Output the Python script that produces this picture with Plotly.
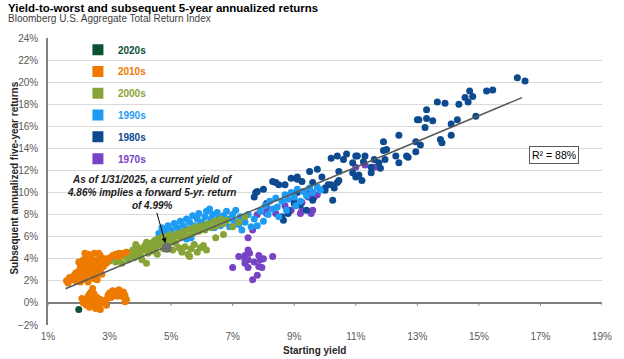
import plotly.graph_objects as go

# ---------------- data ----------------
decades = ["2020s", "2010s", "2000s", "1990s", "1980s", "1970s"]
colors = {"2020s": "#0B5233", "2010s": "#EE7A00", "2000s": "#86A536",
          "1990s": "#1E9CF3", "1980s": "#0D4A8F", "1970s": "#7643C4"}

x_2020s = [2.0]
y_2020s = [-0.6]

x_2010s = [1.6, 1.65, 1.7, 1.75, 1.8, 1.85, 1.9, 1.95, 2.0, 2.0, 2.05, 2.1, 2.1, 2.15, 2.15, 2.2, 2.2, 2.25, 2.25,
           2.3, 2.3, 2.35, 2.35, 2.4, 2.4, 2.45, 2.45, 2.5, 2.5, 2.55, 2.55, 2.6, 2.6, 2.65, 2.7, 2.7, 2.75, 2.8,
           2.6, 2.85, 2.9, 2.95, 3.0, 3.1, 3.2, 3.25, 3.3, 3.35, 3.45, 3.55, 2.05, 2.3, 1.9, 2.5, 2.0, 2.2, 2.65,
           2.4, 2.75,
           2.1, 2.15, 2.2, 2.25, 2.3, 2.3, 2.35, 2.4, 2.4, 2.45, 2.45, 2.5, 2.5, 2.55, 2.55, 2.6, 2.6, 2.65, 2.7,
           2.75, 2.8, 2.9, 2.9, 2.95, 3.0, 3.05, 3.1, 3.15, 3.2, 3.25, 3.3, 3.3, 3.35, 3.4, 3.45, 3.5, 3.55, 3.5,
           2.35, 2.7]
y_2010s = [2.0, 1.8, 2.3, 2.1, 2.2, 2.5, 2.0, 2.6, 2.3, 2.9, 3.3, 2.1, 3.6, 2.7, 3.9, 2.3, 3.2, 4.1, 2.9,
           3.5, 4.4, 2.6, 3.8, 3.1, 4.1, 2.4, 3.4, 3.7, 4.5, 2.9, 3.2, 3.9, 2.6, 3.5, 4.3, 3.0, 3.7, 3.3,
           2.1, 4.0, 3.6, 3.9, 4.1, 4.3, 4.4, 4.2, 4.5, 4.3, 4.5, 4.6, 1.9, 1.9, 2.7, 2.2, 3.7, 4.5, 4.5,
           3.6, 2.6,
           0.4, 0.0, 0.3, -0.2, 0.6, 0.0, -0.4, 0.4, 1.0, 1.3, -0.1, 0.2, 0.8, -0.5, 0.1, 0.5, -0.2, -0.4, 0.3,
           0.0, 0.2, -0.2, 0.3, 0.7, 0.9, 0.5, 1.1, 0.8, 1.0, 0.6, 1.2, 0.8, 0.9, 0.6, 1.0, 0.1, 0.3, 0.7,
           0.8, -0.6]

x_2000s = [3.0, 3.1, 3.2, 3.3, 3.35, 3.4, 3.5, 3.55, 3.6, 3.7, 3.75, 3.8, 3.9, 3.95, 4.0, 4.1, 4.15, 4.2, 4.25,
           4.3, 4.35, 4.4, 4.45, 4.5, 4.55, 4.6, 4.65, 4.7, 4.75, 4.8, 4.85, 4.9, 4.95, 5.0, 5.05, 5.1, 5.15, 5.2,
           5.3, 5.35, 5.4, 5.45, 5.5, 5.55, 5.6, 5.65, 5.7, 5.75, 5.8, 5.85, 5.9, 5.95, 6.0, 6.05, 6.1, 6.15,
           6.2, 6.3, 6.4, 6.5, 6.6, 6.7, 6.8, 7.0, 7.2, 7.4, 4.05, 4.2, 3.85, 4.5, 5.25, 5.6, 6.45, 6.7]
y_2000s = [3.8, 4.2, 3.7, 4.0, 4.4, 3.6, 4.2, 4.6, 3.9, 4.4, 4.8, 4.1, 4.6, 5.0, 4.3, 4.8, 5.2, 3.6, 4.5,
           5.0, 5.4, 4.7, 5.6, 5.1, 4.4, 5.8, 5.3, 6.0, 4.9, 5.5, 5.9, 5.2, 6.2, 5.6, 4.8, 6.0, 5.4, 6.3,
           5.9, 4.6, 6.5, 5.1, 6.1, 4.4, 6.7, 4.9, 6.3, 5.3, 6.9, 4.6, 6.5, 5.0, 7.0, 5.2, 6.6, 4.8,
           7.2, 6.8, 7.4, 7.0, 7.6, 7.2, 7.5, 6.9, 7.3, 7.8, 3.9, 5.5, 5.3, 5.7, 5.0, 4.2, 5.9, 6.2]

x_1990s = [4.6, 4.7, 4.8, 4.9, 5.0, 5.1, 5.2, 5.3, 5.35, 5.4, 5.5, 5.5, 5.55, 5.6, 5.7, 5.75, 5.8, 5.85, 5.9,
           6.0, 6.05, 6.1, 6.15, 6.2, 6.3, 6.35, 6.4, 6.45, 6.5, 6.55, 6.6, 6.7, 6.75, 6.8, 6.85, 6.9, 7.0,
           7.05, 7.1, 7.2, 7.25, 7.3, 7.4, 7.5, 7.6, 7.7, 7.8, 7.9, 8.0, 8.05, 8.15, 8.2, 8.3, 8.4, 8.45, 8.5,
           8.6, 8.7, 8.75, 8.8, 8.9, 9.0, 9.05, 9.1, 9.2, 9.3, 9.4, 9.5, 9.6, 9.75, 9.85, 5.65, 6.25, 5.95]
y_1990s = [6.3, 6.8, 6.5, 7.0, 6.6, 7.2, 6.8, 7.4, 6.5, 7.0, 7.6, 5.8, 6.7, 7.3, 7.9, 7.0, 6.5, 7.6, 8.1,
           7.3, 6.9, 7.8, 8.3, 7.1, 7.6, 8.0, 6.8, 7.4, 8.2, 7.7, 7.0, 7.9, 7.3, 8.3, 7.6, 6.9, 8.0,
           7.4, 8.4, 7.1, 7.8, 6.6, 7.3, 8.0, 6.9, 7.6, 7.0, 8.3, 7.4, 8.8, 8.0, 9.2, 8.5, 9.5, 8.7, 7.8,
           9.2, 9.8, 8.4, 9.4, 10.0, 9.6, 8.8, 10.3, 9.2, 10.1, 9.7, 10.4, 10.0, 10.5, 10.2, 5.9, 8.5, 7.1]

x_1980s = [7.7, 7.75, 7.8, 8.1, 8.4, 8.5, 8.7, 8.9, 9.1, 9.1, 9.25, 9.5, 9.75, 9.6, 8.6, 8.65, 8.8, 9.0, 9.1,
           10.0, 10.1, 10.4, 10.45, 10.9, 11.0, 10.0, 10.2, 10.3, 10.45, 11.2, 11.1, 11.5, 10.2, 10.6, 11.0,
           10.9, 11.25, 11.5, 11.6, 11.75, 11.8, 11.9, 11.95, 12.3, 12.4, 12.65, 12.7, 12.95, 13.1, 11.9, 12.4,
           12.0, 12.95, 13.0, 13.05, 13.3, 13.5, 13.25, 13.3, 13.65, 13.9, 14.35, 14.55, 14.7, 14.8, 14.65,
           15.25, 15.45, 16.25, 16.5, 14.9, 13.75, 13.8, 14.1, 14.1, 14.3, 10.4, 10.7, 11.05, 11.3, 8.3, 8.8,
           9.2, 9.4, 9.6, 10.25, 8.0, 9.9]
y_1980s = [9.6, 10.0, 10.1, 9.0, 10.9, 10.7, 10.7, 11.3, 11.4, 11.2, 11.0, 11.9, 12.1, 10.9, 7.8, 7.5, 8.1, 9.0,
           10.0, 10.2, 10.7, 10.9, 11.9, 11.8, 11.4, 10.4, 10.7, 10.4, 11.1, 11.1, 11.6, 11.8, 13.1, 13.0, 13.3,
           12.7, 12.8, 12.3, 13.0, 12.7, 12.2, 13.8, 13.0, 13.3, 12.7, 13.3, 13.2, 13.7, 14.3, 14.6, 15.2,
           13.9, 14.6, 16.6, 16.6, 16.7, 16.5, 15.9, 17.5, 18.2, 18.1, 18.0, 18.6, 19.2, 18.7, 18.2,
           19.2, 19.3, 20.4, 20.1, 16.9, 14.8, 14.5, 15.2, 16.2, 16.6, 13.3, 13.5, 13.3, 13.3, 11.0, 8.4,
           8.9, 8.4, 9.3, 9.3, 10.3, 11.4]

x_1970s = [8.1, 8.1, 8.4, 8.9, 9.2, 9.25, 9.25, 9.45, 9.45, 9.55, 9.6, 9.6, 9.65, 9.75, 7.8, 8.7, 9.0, 11.0,
           11.6, 11.3, 7.5, 7.65,
           7.5, 7.4, 7.2, 7.4, 7.0, 7.5, 7.5, 7.4, 7.85, 7.9, 8.0, 8.3, 7.85, 7.95, 7.8, 7.65, 7.55, 7.7]
y_1970s = [8.6, 8.1, 8.1, 8.4, 8.1, 8.4, 9.1, 9.6, 10.0, 8.1, 8.4, 10.0, 9.6, 9.8, 8.0, 8.8, 9.3, 12.3,
           12.3, 12.5, 5.9, 6.6,
           4.8, 4.3, 4.2, 3.9, 3.2, 3.2, 3.9, 3.6, 4.3, 3.9, 4.0, 4.2, 3.3, 3.2, 2.5, 2.1, 4.5, 3.7]

series = {"2020s": (x_2020s, y_2020s), "2010s": (x_2010s, y_2010s), "2000s": (x_2000s, y_2000s),
          "1990s": (x_1990s, y_1990s), "1980s": (x_1980s, y_1980s), "1970s": (x_1970s, y_1970s)}

trend_x = [1.57, 16.4]
trend_y = [1.28, 18.6]

current_x = [4.86]
current_y = [4.99]
r_squared = "88%"

x_ticks = [1, 3, 5, 7, 9, 11, 13, 15, 17, 19]

# ---------------- figure ----------------
fig = go.Figure()

draw_order = ["1970s", "1980s", "1990s", "2000s", "2010s", "2020s"]
for d in draw_order:
    xs, ys = series[d]
    fig.add_trace(go.Scatter(x=xs, y=ys, mode="markers", legendgroup=d, showlegend=False,
                             marker=dict(color=colors[d], size=7, line=dict(width=0)),
                             hoverinfo="x+y", name=d))

for d in decades:
    fig.add_trace(go.Scatter(x=[None], y=[None], mode="markers", legendgroup=d, showlegend=True,
                             name="<b><span style='color:%s'>%s</span></b>" % (colors[d], d),
                             marker=dict(color=colors[d], size=11, symbol="square")))

fig.add_trace(go.Scatter(x=trend_x, y=trend_y, mode="lines", showlegend=False,
                         line=dict(color="#595959", width=1.5), hoverinfo="skip"))
fig.add_trace(go.Scatter(x=current_x, y=current_y, mode="markers", showlegend=False,
                         marker=dict(color="#6E6E6E", size=10)))

# small tick marks on the zero line
for t in x_ticks:
    fig.add_shape(type="line", xref="x", yref="y", x0=t, x1=t, y0=0, y1=-0.25,
                  line=dict(color="#7F7F7F", width=1))

font_family = "Liberation Sans, Arial, sans-serif"

fig.update_layout(
    width=624, height=359,
    margin=dict(l=48, r=12, t=38, b=34),
    paper_bgcolor="white", plot_bgcolor="white",
    font=dict(family=font_family, size=10, color="#595959"),
    showlegend=True,
    legend=dict(x=0.054, y=1.01, xanchor="left", yanchor="top", bgcolor="rgba(0,0,0,0)",
                tracegroupgap=2.8, itemsizing="trace", font=dict(size=10),
                traceorder="grouped"),
    xaxis=dict(range=[1, 19], tickvals=x_ticks, ticktext=["%d%%" % v for v in x_ticks],
               showgrid=False, zeroline=False, showline=False,
               ticks="outside", ticklen=2, tickcolor="rgba(0,0,0,0)",
               tickfont=dict(size=10, color="#595959")),
    yaxis=dict(range=[-2, 24], dtick=2, tick0=0, ticksuffix="%",
               showgrid=True, gridcolor="#D9D9D9", gridwidth=1,
               zeroline=True, zerolinecolor="#7F7F7F", zerolinewidth=1.5,
               showline=True, linecolor="#7F7F7F", linewidth=1.5,
               ticks="outside", ticklen=6, tickcolor="rgba(0,0,0,0)",
               tickfont=dict(size=10, color="#595959")),
    annotations=[
        dict(text="<b>Yield-to-worst and subsequent 5-year annualized returns</b>",
             xref="paper", yref="paper", x=-0.0765, y=1 + (38.5 - 8) / 287,
             xanchor="left", yanchor="middle", showarrow=False,
             font=dict(size=11.5, color="#000000", family=font_family)),
        dict(text="Bloomberg U.S. Aggregate Total Return Index",
             xref="paper", yref="paper", x=-0.0765, y=1 + (38.5 - 19) / 287,
             xanchor="left", yanchor="middle", showarrow=False,
             font=dict(size=10, color="#404040", family=font_family)),
        dict(text="<b>Subsequent annualized five-year returns</b>", textangle=-90,
             xref="paper", yref="paper", x=(14 - 48.3) / 564, y=(324.7 - 178) / 287,
             xanchor="center", yanchor="middle", showarrow=False,
             font=dict(size=10, color="#262626", family=font_family)),
        dict(text="<b>Starting yield</b>",
             xref="paper", yref="paper", x=(320 - 48.3) / 564, y=-(350 - 324.7) / 287,
             xanchor="center", yanchor="middle", showarrow=False,
             font=dict(size=10, color="#262626", family=font_family)),
        dict(text="<b><i>As of 1/31/2025, a current yield of<br>4.86% implies a forward 5-yr. return<br>of 4.99%</i></b>",
             x=current_x[0], y=current_y[0], xref="x", yref="y",
             ax=4.35, ay=9.97, axref="x", ayref="y",
             showarrow=True, arrowhead=2, arrowsize=1, arrowwidth=1, arrowcolor="#000000",
             standoff=5, align="center",
             font=dict(size=10, color="#1A1A1A", family=font_family)),
        dict(text="R² = " + r_squared, x=17.45, y=13.4, xref="x", yref="y",
             showarrow=False, bordercolor="#595959", borderwidth=1, borderpad=2,
             bgcolor="white", font=dict(size=10.5, color="#000000", family=font_family)),
    ],
)

fig.write_html("out.html", config={"displayModeBar": False},
               post_script="document.body.style.margin='0';document.body.style.overflow='hidden';")
